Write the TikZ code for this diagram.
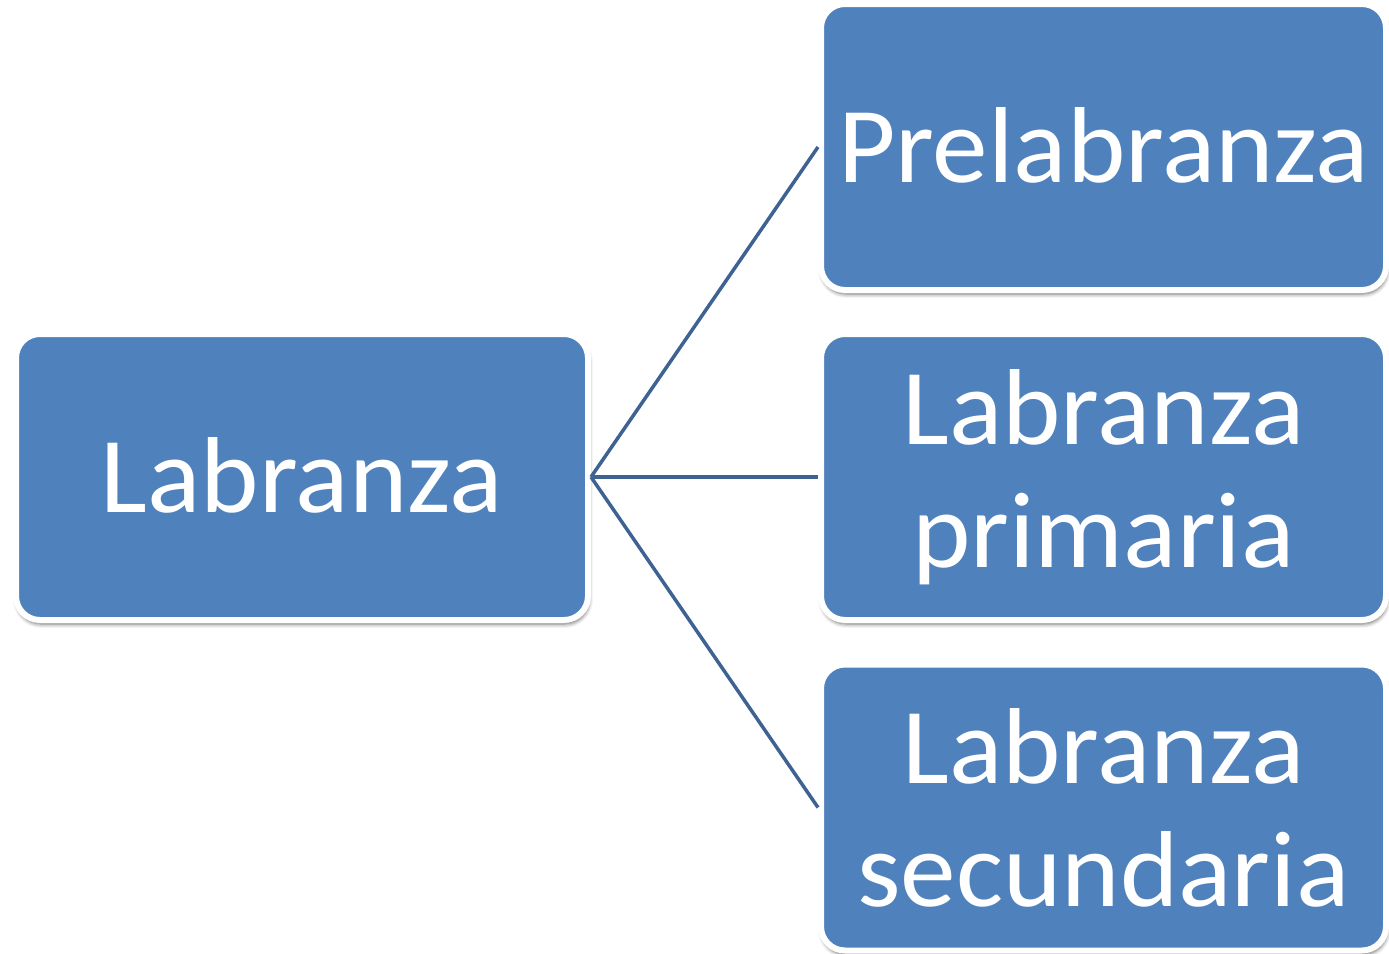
\documentclass[tikz,border=0pt]{standalone}
\usepackage{fontspec}
\setmainfont[FakeStretch=1.03]{Carlito}
\usetikzlibrary{shadows.blur}
\definecolor{boxblue}{RGB}{79,129,189}
\definecolor{linkblue}{RGB}{62,99,147}
\tikzset{
  box/.style={rectangle, rounded corners=24pt, fill=boxblue, draw=white, line width=6pt,
    text=white, align=center, inner sep=0pt, outer sep=3pt,
    minimum height=286pt,
    font=\fontsize{108}{123}\selectfont,
    blur shadow={shadow xshift=1pt, shadow yshift=-4pt, shadow blur radius=4pt, shadow opacity=60}},
  link/.style={draw=linkblue, line width=3.5pt}
}
\begin{document}
\begin{tikzpicture}[x=1pt,y=-1pt]
\useasboundingbox (0,0) rectangle (1389,953);
\node[box, minimum width=572pt] (lab) at (302,477) {\raisebox{4pt}{Labranza}};
\node[box, minimum width=565pt] (pre) at (1103.5,147) {\raisebox{4pt}{Prelabranza}};
\node[box, minimum width=565pt] (pri) at (1103.5,477) {Labranza\\primaria};
\node[box, minimum width=565pt] (sec) at (1103.5,807.5) {Labranza\\secundaria};
\draw[link] (lab.east) -- (pre.west);
\draw[link] (lab.east) -- (pri.west);
\draw[link] (lab.east) -- (sec.west);
\end{tikzpicture}
\end{document}
